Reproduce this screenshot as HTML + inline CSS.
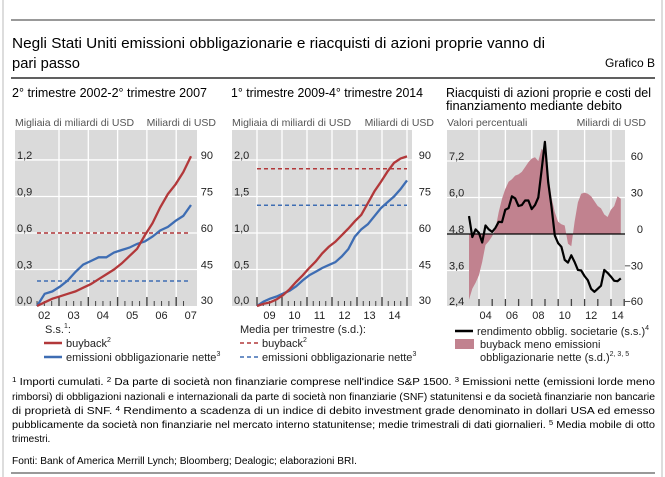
<!DOCTYPE html>
<html><head><meta charset="utf-8"><style>
html,body{margin:0;padding:0;background:#fff}
svg{display:block;font-family:"Liberation Sans",sans-serif}
</style></head><body>
<svg id="chart" width="665" height="477" viewBox="0 0 665 477" xmlns="http://www.w3.org/2000/svg">
<line x1="3" y1="0" x2="3" y2="477" stroke="#bbb" stroke-width="1"/>
<line x1="662" y1="0" x2="662" y2="477" stroke="#bbb" stroke-width="1"/>
<line x1="11" y1="20" x2="655" y2="20" stroke="#999" stroke-width="2"/>
<text x="12" y="48" font-size="15" textLength="533" lengthAdjust="spacingAndGlyphs">Negli Stati Uniti emissioni obbligazionarie e riacquisti di azioni proprie vanno di</text>
<text x="12" y="68" font-size="15" textLength="68" lengthAdjust="spacingAndGlyphs">pari passo</text>
<text x="655" y="67" font-size="12" text-anchor="end">Grafico B</text>
<line x1="11" y1="78" x2="655" y2="78" stroke="#000" stroke-width="1.2"/>
<text x="12" y="97" font-size="13" textLength="195" lengthAdjust="spacingAndGlyphs">2° trimestre 2002-2° trimestre 2007</text>
<text x="231" y="97" font-size="13" textLength="192" lengthAdjust="spacingAndGlyphs">1° trimestre 2009-4° trimestre 2014</text>
<text x="446" y="97" font-size="13" textLength="205" lengthAdjust="spacingAndGlyphs">Riacquisti di azioni proprie e costi del</text>
<text x="446" y="110" font-size="13" textLength="176" lengthAdjust="spacingAndGlyphs">finanziamento mediante debito</text>
<g id="p1"></g>
<g id="p2"></g>
<g id="p3"></g>
<g font-size="10" fill="#000">
<text x="12" y="385" textLength="643" lengthAdjust="spacingAndGlyphs"><tspan font-size="7" dy="-3">1</tspan><tspan dy="3"> Importi cumulati.  </tspan><tspan font-size="7" dy="-3">2</tspan><tspan dy="3"> Da parte di società non finanziarie comprese nell'indice S&amp;P 1500.  </tspan><tspan font-size="7" dy="-3">3</tspan><tspan dy="3"> Emissioni nette (emissioni lorde meno</tspan></text>
<text x="12" y="400" textLength="643" lengthAdjust="spacingAndGlyphs">rimborsi) di obbligazioni nazionali e internazionali da parte di società non finanziarie (SNF) statunitensi e da società finanziarie non bancarie</text>
<text x="12" y="414" textLength="643" lengthAdjust="spacingAndGlyphs">di proprietà di SNF.  <tspan font-size="7" dy="-3">4</tspan><tspan dy="3"> Rendimento a scadenza di un indice di debito investment grade denominato in dollari USA ed emesso</tspan></text>
<text x="12" y="428" textLength="643" lengthAdjust="spacingAndGlyphs">pubblicamente da società non finanziarie nel mercato interno statunitense; medie trimestrali di dati giornalieri.  <tspan font-size="7" dy="-3">5</tspan><tspan dy="3"> Media mobile di otto</tspan></text>
<text x="12" y="442">trimestri.</text>
<text x="12" y="464" textLength="345" lengthAdjust="spacingAndGlyphs">Fonti: Bank of America Merrill Lynch; Bloomberg; Dealogic; elaborazioni BRI.</text>
</g>
<line x1="11" y1="473" x2="655" y2="473" stroke="#999" stroke-width="2"/>
</svg>
<script>
// ---- Panel 1 data (2002Q2-2007Q2, cumulative, thousands of billions USD)
const p1Buyback = [0,0.03,0.06,0.08,0.10,0.12,0.15,0.18,0.22,0.26,0.30,0.35,0.41,0.47,0.58,0.68,0.81,0.92,1.00,1.10,1.23];
const p1Bonds   = [0,0.10,0.12,0.16,0.21,0.28,0.34,0.37,0.40,0.40,0.44,0.46,0.48,0.51,0.53,0.57,0.62,0.65,0.70,0.74,0.83];
const p1AvgBuyback = [0.6];
const p1AvgBonds = [0.205];
const p1YearLabels = ["02","03","04","05","06","07"];
const p1LeftTicks = ["0,0","0,3","0,6","0,9","1,2"];
const p1RightTicks = ["30","45","60","75","90"];
// ---- Panel 2 data (2009Q1-2014Q4)
const p2Buyback = [0,0.03,0.05,0.09,0.15,0.23,0.33,0.42,0.52,0.61,0.72,0.81,0.88,0.97,1.06,1.16,1.25,1.41,1.57,1.70,1.84,1.96,2.02,2.05];
const p2Bonds   = [0,0.06,0.10,0.13,0.17,0.21,0.27,0.35,0.42,0.47,0.52,0.56,0.60,0.68,0.78,0.95,1.05,1.12,1.23,1.34,1.42,1.50,1.60,1.72];
const p2AvgBuyback = [1.88];
const p2AvgBonds = [1.38];
const p2YearLabels = ["09","10","11","12","13","14"];
const p2LeftTicks = ["0,0","0,5","1,0","1,5","2,0"];
const p2RightTicks = ["30","45","60","75","90"];
// ---- Panel 3 data (2003Q2-2014Q4)
const p3Yield = [5.39,4.7,4.95,4.84,4.52,5.08,4.95,4.87,5.0,5.2,5.19,5.6,5.65,6.04,5.97,5.72,5.75,5.9,5.9,5.62,5.75,6.0,6.9,7.83,6.5,5.7,4.75,4.5,4.38,3.95,3.86,4.1,3.88,3.62,3.6,3.42,3.28,3.0,2.9,3.0,3.1,3.62,3.52,3.4,3.26,3.25,3.34];
const p3Gap = [-54,-45,-40,-34,-23,-9,-6,-2,4,18,29,37,43,45,48,49,51,55,59,62,63,60,70,67,50,30,18,10,8,7,-8,-10,10,26,33,34,33,31,27,23,21,16,14,20,23,31,29];
const p3YearLabels = ["04","06","08","10","12","14"];
const p3LeftTicks = ["2,4","3,6","4,8","6,0","7,2"];
const p3RightTicks = ["\u221260","\u221230","0","30","60"];

const NS="http://www.w3.org/2000/svg";
function mk(parent,tag,attrs,text){const e=document.createElementNS(NS,tag);for(const k in attrs)e.setAttribute(k,attrs[k]);if(text!==undefined)e.textContent=text;parent.appendChild(e);return e;}
const RED="#b2383a",BLUE="#3e6db3",GRID="#ffffff",BG="#dadada",TXT="#222";
const TOP=130,BOT=306;

function frame(g,x0,x1,unitL,unitR,labelX,rightX,leftTicks,rightTicks,yOfTick){
  const r=mk(g,"rect",{x:x0,y:TOP,width:x1-x0,height:BOT-TOP,fill:BG});
  
  
  const ul=mk(g,"text",{x:x0,y:126,"font-size":10.5,fill:"#555"},unitL);
  
  
  const ur=mk(g,"text",{x:rightX+16,y:126,"font-size":10.5,fill:"#555","text-anchor":"end"},unitR);
  
  
  leftTicks.forEach((t,i)=>{
    const y=yOfTick(i);
    if(i>0){const gl=mk(g,"line",{x1:x0,x2:x1,y1:y,y2:y,stroke:GRID,"stroke-width":1.3});
      
      }
    const lt=mk(g,"text",{x:labelX,y:(i==0?y-2:y-1),"font-size":11,fill:TXT},t);
    
    
    const rt=mk(g,"text",{x:rightX+13,y:(i==0?y-2:y-1),"font-size":11,fill:TXT,"text-anchor":"end"},rightTicks[i]);
    
    
  });
}
function poly(g,xs,ys,attrs,name){
  const pts=xs.map((x,i)=>x.toFixed(1)+","+ys[i].toFixed(1)).join(" ");
  const p=mk(g,"polyline",Object.assign({points:pts,fill:"none"},attrs));
  
  
  return p;
}
function legendLine(g,x,y,color,dash,label,sup,name){
  const l=mk(g,"line",{x1:x,x2:x+18,y1:y,y2:y,stroke:color,"stroke-width":dash?1.5:2.5,"stroke-dasharray":dash?"4,3":"none"});
  
  
  const t=mk(g,"text",{x:x+22,y:y+4,"font-size":11,fill:TXT},label);
  
  
  if(sup){mk(t,"tspan",{"font-size":7,dy:-5},sup);}
}

// ===== Panel 1
(function(){
  const g=document.getElementById("p1");
  const x0=15,x1=197;
  const yv=v=>BOT-v*121.7;
  const yearStart=k=>29.7+k*29.3;
  const xq=i=>37+i*7.7;
  frame(g,x0,x1,"Migliaia di miliardi di USD","Miliardi di USD",17,200,p1LeftTicks,p1RightTicks,i=>yv(i*0.3));
  for(let k=1;k<=5;k++){const gl=mk(g,"line",{x1:yearStart(k),x2:yearStart(k),y1:TOP,y2:BOT,stroke:GRID,"stroke-width":1.3});
    
    }
  for(let q=1;q<22;q++){const x=yearStart(0)+q*29.3/4;const maj=q%4==0;
    const tk=mk(g,"line",{x1:x,x2:x,y1:BOT,y2:BOT-(maj?9:5),stroke:"#444","stroke-width":maj?1.4:1});
    
    }
  p1YearLabels.forEach((s,k)=>{const t=mk(g,"text",{x:yearStart(k)+14.6,y:319,"font-size":11,fill:TXT,"text-anchor":"middle"},s);
    
    });
  const d1=mk(g,"line",{x1:37,x2:191,y1:yv(p1AvgBuyback[0]),y2:yv(p1AvgBuyback[0]),stroke:RED,"stroke-width":1.5,"stroke-dasharray":"4,3"});
  
  
  const d2=mk(g,"line",{x1:37,x2:191,y1:yv(p1AvgBonds[0]),y2:yv(p1AvgBonds[0]),stroke:BLUE,"stroke-width":1.5,"stroke-dasharray":"4,3"});
  
  
  poly(g,p1Bonds.map((v,i)=>xq(i)),p1Bonds.map(yv),{stroke:BLUE,"stroke-width":2.3},"bonds-cumulative-line");
  poly(g,p1Buyback.map((v,i)=>xq(i)),p1Buyback.map(yv),{stroke:RED,"stroke-width":2.3},"buyback-cumulative-line");
  const h=mk(g,"text",{x:45,y:333,"font-size":11,fill:TXT},"S.s.");
  
  
  mk(h,"tspan",{"font-size":7,dy:-5},"1");
  mk(h,"tspan",{dy:5},":");
  legendLine(g,44,343,RED,false,"buyback","2","legend-buyback");
  legendLine(g,44,357,BLUE,false,"emissioni obbligazionarie nette","3","legend-bonds");
})();

// ===== Panel 2
(function(){
  const g=document.getElementById("p2");
  const x0=232,x1=412;
  const yv=v=>BOT-v*73;
  const yearStart=k=>257+k*25;
  const xq=i=>257+i*150/23;
  frame(g,x0,x1,"Migliaia di miliardi di USD","Miliardi di USD",234,418,p2LeftTicks,p2RightTicks,i=>yv(i*0.5));
  for(let k=0;k<=6;k++){const gl=mk(g,"line",{x1:yearStart(k),x2:yearStart(k),y1:TOP,y2:BOT,stroke:GRID,"stroke-width":1.3});
    
    }
  for(let q=0;q<=24;q++){const x=yearStart(0)+q*25/4;const maj=q%4==0;
    const tk=mk(g,"line",{x1:x,x2:x,y1:BOT,y2:BOT-(maj?9:5),stroke:"#444","stroke-width":maj?1.4:1});
    
    }
  p2YearLabels.forEach((s,k)=>{const t=mk(g,"text",{x:yearStart(k)+12.5,y:319,"font-size":11,fill:TXT,"text-anchor":"middle"},s);
    
    });
  const d1=mk(g,"line",{x1:257,x2:407,y1:yv(p2AvgBuyback[0]),y2:yv(p2AvgBuyback[0]),stroke:RED,"stroke-width":1.5,"stroke-dasharray":"4,3"});
  
  
  const d2=mk(g,"line",{x1:257,x2:407,y1:yv(p2AvgBonds[0]),y2:yv(p2AvgBonds[0]),stroke:BLUE,"stroke-width":1.5,"stroke-dasharray":"4,3"});
  
  
  poly(g,p2Bonds.map((v,i)=>xq(i)),p2Bonds.map(yv),{stroke:BLUE,"stroke-width":2.3},"bonds-cumulative-line");
  poly(g,p2Buyback.map((v,i)=>xq(i)),p2Buyback.map(yv),{stroke:RED,"stroke-width":2.3},"buyback-cumulative-line");
  const h=mk(g,"text",{x:240,y:333,"font-size":11,fill:TXT},"Media per trimestre (s.d.):");
  
  
  legendLine(g,240,343,RED,true,"buyback","2","legend-buyback-average");
  legendLine(g,240,357,BLUE,true,"emissioni obbligazionarie nette","3","legend-bonds-average");
})();

// ===== Panel 3
(function(){
  const g=document.getElementById("p3");
  const x0=447,x1=625;
  const yl=v=>234-(v-4.8)*30.42;
  const yr=v=>234-v*1.2167;
  const yearStart=k=>479+k*13.2;
  const xq=i=>469+i*3.3;
  frame(g,x0,x1,"Valori percentuali","Miliardi di USD",449,630,p3LeftTicks,p3RightTicks,i=>yl(2.4+i*1.2));
  for(let k=0;k<=5;k++){const gl=mk(g,"line",{x1:yearStart(2*k),x2:yearStart(2*k),y1:TOP,y2:BOT,stroke:GRID,"stroke-width":1.3});
    
    }
  let d="M"+xq(0).toFixed(1)+","+yr(0).toFixed(1);
  p3Gap.forEach((v,i)=>{d+=" L"+xq(i).toFixed(1)+","+yr(v).toFixed(1);});
  d+=" L"+xq(p3Gap.length-1).toFixed(1)+","+yr(0).toFixed(1)+" Z";
  const a=mk(g,"path",{d:d,fill:"#c1828f"});
  
  
  const z=mk(g,"line",{x1:x0,x2:x1,y1:yr(0),y2:yr(0),stroke:"#000","stroke-width":1.3});
  
  
  for(let k=0;k<=11;k++){const tk=mk(g,"line",{x1:yearStart(k),x2:yearStart(k),y1:BOT,y2:BOT-7,stroke:"#444","stroke-width":1.3});
    
    }
  p3YearLabels.forEach((s,k)=>{const t=mk(g,"text",{x:yearStart(2*k)+6.6,y:319,"font-size":11,fill:TXT,"text-anchor":"middle"},s);
    
    });
  poly(g,p3Yield.map((v,i)=>xq(i)),p3Yield.map(yl),{stroke:"#000","stroke-width":2.2,"stroke-linejoin":"round"},"corporate-yield-line");
  legendLine(g,455,331,"#000",false,"rendimento obblig. societarie (s.s.)","4","legend-yield");
  const sw=mk(g,"rect",{x:455,y:339,width:19,height:10,fill:"#c1828f"});
  
  
  const t1=mk(g,"text",{x:480,y:348,"font-size":11,fill:TXT},"buyback meno emissioni");
  
  
  const t2=mk(g,"text",{x:480,y:361,"font-size":11,fill:TXT},"obbligazionarie nette (s.d.)");
  
  
  mk(t2,"tspan",{"font-size":7,dy:-5},"2, 3, 5");
})();
</script>
</body></html>
